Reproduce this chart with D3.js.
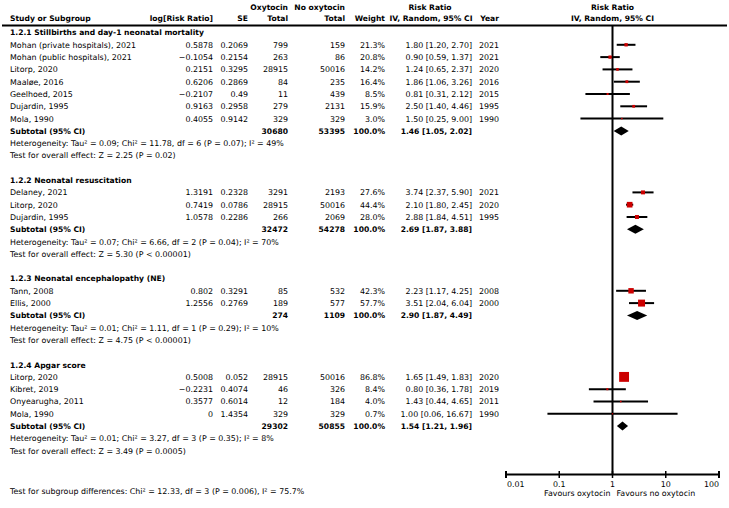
<!DOCTYPE html>
<html><head><meta charset="utf-8">
<script src="https://cdn.jsdelivr.net/npm/d3@7"></script>
<style>
html,body{margin:0;padding:0;background:#fff;}
text{font-family:"DejaVu Sans",Verdana,sans-serif;font-size:7.9px;fill:#000;}
.b{font-weight:bold;font-size:7.6px;}
</style></head>
<body><svg id="c" width="729" height="508"></svg>
<script>
// ---- data ----
const groupTitles = ["1.2.1 Stillbirths and day-1 neonatal mortality","1.2.2 Neonatal resuscitation","1.2.3 Neonatal encephalopathy (NE)","1.2.4 Apgar score"];
const studyNames = [
  ["Mohan (private hospitals), 2021","Mohan (public hospitals), 2021","Litorp, 2020","Maaløe, 2016","Geelhoed, 2015","Dujardin, 1995","Mola, 1990"],
  ["Delaney, 2021","Litorp, 2020","Dujardin, 1995"],
  ["Tann, 2008","Ellis, 2000"],
  ["Litorp, 2020","Kibret, 2019","Onyearugha, 2011","Mola, 1990"]];
const logRR = [[0.5878,-0.1054,0.2151,0.6206,-0.2107,0.9163,0.4055],[1.3191,0.7419,1.0578],[0.802,1.2556],[0.5008,-0.2231,0.3577,0]];
const seVals = [[0.2069,0.2154,0.3295,0.2869,0.49,0.2958,0.9142],[0.2328,0.0786,0.2286],[0.3291,0.2769],[0.052,0.4074,0.6014,1.4354]];
const oxyTotal = [[799,263,28915,84,11,279,329],[3291,28915,266],[85,189],[28915,46,12,329]];
const noOxyTotal = [[159,86,50016,235,439,2131,329],[2193,50016,2069],[532,577],[50016,326,184,329]];
const weights = [[21.3,20.8,14.2,16.4,8.5,15.9,3.0],[27.6,44.4,28.0],[42.3,57.7],[86.8,8.4,4.0,0.7]];
const rr = [[1.80,0.90,1.24,1.86,0.81,2.50,1.50],[3.74,2.10,2.88],[2.23,3.51],[1.65,0.80,1.43,1.00]];
const rrLo = [[1.20,0.59,0.65,1.06,0.31,1.40,0.25],[2.37,1.80,1.84],[1.17,2.04],[1.49,0.36,0.44,0.06]];
const rrHi = [[2.70,1.37,2.37,3.26,2.12,4.46,9.00],[5.90,2.45,4.51],[4.25,6.04],[1.83,1.78,4.65,16.67]];
const years = [[2021,2021,2020,2016,2015,1995,1990],[2021,2020,1995],[2008,2000],[2020,2019,2011,1990]];
const subOxy = [30680,32472,274,29302];
const subNoOxy = [53395,54278,1109,50855];
const subRR = [1.46,2.69,2.90,1.54];
const subLo = [1.05,1.87,1.87,1.21];
const subHi = [2.02,3.88,4.49,1.96];
const hetText = ["Heterogeneity: Tau² = 0.09; Chi² = 11.78, df = 6 (P = 0.07); I² = 49%",
  "Heterogeneity: Tau² = 0.07; Chi² = 6.66, df = 2 (P = 0.04); I² = 70%",
  "Heterogeneity: Tau² = 0.01; Chi² = 1.11, df = 1 (P = 0.29); I² = 10%",
  "Heterogeneity: Tau² = 0.01; Chi² = 3.27, df = 3 (P = 0.35); I² = 8%"];
const effectText = ["Test for overall effect: Z = 2.25 (P = 0.02)","Test for overall effect: Z = 5.30 (P < 0.00001)",
  "Test for overall effect: Z = 4.75 (P < 0.00001)","Test for overall effect: Z = 3.49 (P = 0.0005)"];
const footerText = "Test for subgroup differences: Chi² = 12.33, df = 3 (P = 0.006), I² = 75.7%";
const tickValues = [0.01,0.1,1,10,100];
const tickLabels = ["0.01","0.1","1","10","100"];
const favoursLeft = "Favours oxytocin", favoursRight = "Favours no oxytocin";

// ---- layout ----
const svg = d3.select("#c");
const x = d3.scaleLog().domain([0.01,100]).range([506,719]);
const rowY = i => 32.5 + 12.3*i;
const sizeScale = d3.scaleLinear().domain([0,100]).range([1.2,11.2]);
const col = {study:10, logrr:213, se:248, oxy:288, noOxy:345, w:385, ci:472, year:499};
const fmt2 = d3.format(".2f");
const minus = s => String(s).replace("-","−");
const ciStr = (r,l,h) => `${fmt2(r)} [${fmt2(l)}, ${fmt2(h)}]`;

function txt(xp, y, s, anchor, cls){
  svg.append("text").attr("x",xp).attr("y",y+2.9).attr("text-anchor",anchor||"start")
    .attr("class",cls||null).text(s);
}

// header
txt(col.oxy,7,"Oxytocin","end","b");
txt(col.noOxy,7,"No oxytocin","end","b");
txt(430,7,"Risk Ratio","middle","b");
txt(x(1),7,"Risk Ratio","middle","b");
txt(col.study,18,"Study or Subgroup","start","b");
txt(col.logrr,18,"log[Risk Ratio]","end","b");
txt(col.se,18,"SE","end","b");
txt(col.oxy,18,"Total","end","b");
txt(col.noOxy,18,"Total","end","b");
txt(col.w,18,"Weight","end","b");
txt(431,18,"IV, Random, 95% CI","middle","b");
txt(col.year,18,"Year","end","b");
txt(x(1),18,"IV, Random, 95% CI","middle","b");
svg.append("line").attr("x1",2).attr("x2",727).attr("y1",25.5).attr("y2",25.5)
  .attr("stroke","#000").attr("stroke-width",2);

// vertical line at 1
svg.append("line").attr("x1",x(1)).attr("x2",x(1)).attr("y1",25).attr("y2",475)
  .attr("stroke","#000").attr("stroke-width",2);

let r = 0;
groupTitles.forEach((g,gi)=>{
  txt(col.study,rowY(r),g,"start","b"); r++;
  studyNames[gi].forEach((n,si)=>{
    const y = rowY(r);
    txt(col.study,y,n);
    txt(col.logrr,y,minus(logRR[gi][si]),"end");
    txt(col.se,y,String(seVals[gi][si]),"end");
    txt(col.oxy,y,String(oxyTotal[gi][si]),"end");
    txt(col.noOxy,y,String(noOxyTotal[gi][si]),"end");
    txt(col.w,y,d3.format(".1f")(weights[gi][si])+"%","end");
    txt(col.ci,y,ciStr(rr[gi][si],rrLo[gi][si],rrHi[gi][si]),"end");
    txt(col.year,y,String(years[gi][si]),"end");
    svg.append("line").attr("x1",x(rrLo[gi][si])).attr("x2",x(rrHi[gi][si]))
      .attr("y1",y).attr("y2",y).attr("stroke","#000").attr("stroke-width",2);
    const s = sizeScale(weights[gi][si]);
    svg.append("rect").attr("x",x(rr[gi][si])-s/2).attr("y",y-s/2).attr("width",s).attr("height",s)
      .attr("fill","#cc0000");
    r++;
  });
  const y = rowY(r);
  txt(col.study,y,"Subtotal (95% CI)","start","b");
  txt(col.oxy,y,String(subOxy[gi]),"end","b");
  txt(col.noOxy,y,String(subNoOxy[gi]),"end","b");
  txt(col.w,y,"100.0%","end","b");
  txt(col.ci,y,ciStr(subRR[gi],subLo[gi],subHi[gi]),"end","b");
  const lo=x(subLo[gi]), hi=x(subHi[gi]), c=x(subRR[gi]);
  svg.append("path").attr("d",`M${lo},${y}L${c},${y-4.5}L${hi},${y}L${c},${y+4.5}Z`).attr("fill","#000");
  r++;
  txt(col.study,rowY(r),hetText[gi]); r++;
  txt(col.study,rowY(r),effectText[gi]); r++;
  r++;
});

// axis
const axY = 474.5;
svg.append("line").attr("x1",x(0.01)).attr("x2",x(100)).attr("y1",axY).attr("y2",axY)
  .attr("stroke","#000").attr("stroke-width",2);
tickValues.forEach((t,i)=>{
  svg.append("line").attr("x1",x(t)).attr("x2",x(t)).attr("y1",axY-3.5).attr("y2",axY+3.5)
    .attr("stroke","#000").attr("stroke-width",(i===0||i===tickValues.length-1)?2:1.5);
  const anchor = i===0?"start":(i===tickValues.length-1?"end":"middle");
  txt(x(t)+(i===0?1:0),484,tickLabels[i],anchor);
});
txt(x(1)-2,493.5,favoursLeft,"end");
txt(x(1)+4,493.5,favoursRight,"start");
txt(col.study,491,footerText);
</script></body></html>
